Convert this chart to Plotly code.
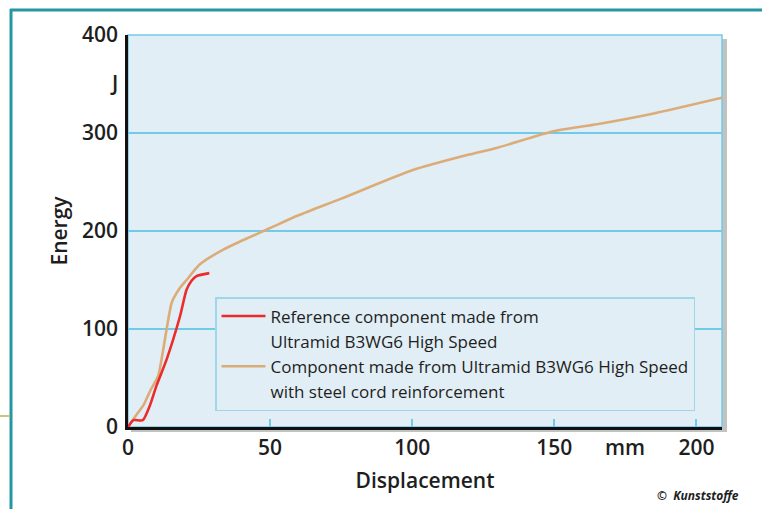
import plotly.graph_objects as go

# ---- data ----
ref_name_lines = ["Reference component made from", "Ultramid B3WG6 High Speed"]
ref_disp = [0, 1.9, 5.2, 7.7, 10.0, 13.6, 18.3, 20.6, 22.3, 24.1, 28.6]
ref_energy = [0, 7, 7, 22, 42, 69, 113, 140, 149, 154, 157]

steel_name_lines = ["Component made from Ultramid B3WG6 High Speed", "with steel cord reinforcement"]
steel_disp = [0, 3.6, 5.4, 8.0, 10.6, 13.6, 15.4, 18.3, 20.6, 25.3, 33.5, 40, 50, 60, 75,
              100, 120, 130, 150, 165, 185, 209]
steel_energy = [0, 15, 22, 38, 52, 100, 127, 142, 150, 166, 181, 190, 203, 216, 233,
                262, 278, 285, 302, 309, 320, 336]

x_ticks = [0, 50, 100, 150, 200]
y_ticks = [0, 100, 200, 300, 400]

FONT = "Open Sans"
WT = 600
TXT = "#1e1e1e"
GRID = "#72cbe6"
BG = "#e1eef5"
TEAL = "#2596a2"
RED = "#ec2b2b"
TAN = "#dcac78"

fig = go.Figure()
fig.add_trace(go.Scatter(x=steel_disp, y=steel_energy, mode="lines", name=steel_name_lines[0],
                         legendgroup="steel", legendrank=3,
                         line=dict(color=TAN, width=2.6, shape="spline", smoothing=0.6)))
fig.add_trace(go.Scatter(x=[None], y=[None], mode="lines", name=steel_name_lines[1],
                         legendgroup="steel", legendrank=4, hoverinfo="skip",
                         line=dict(color="rgba(0,0,0,0)", width=0)))
fig.add_trace(go.Scatter(x=ref_disp, y=ref_energy, mode="lines", name=ref_name_lines[0],
                         legendgroup="ref", legendrank=1,
                         line=dict(color=RED, width=2.6, shape="spline", smoothing=0.6)))
fig.add_trace(go.Scatter(x=[None], y=[None], mode="lines", name=ref_name_lines[1],
                         legendgroup="ref", legendrank=2, hoverinfo="skip",
                         line=dict(color="rgba(0,0,0,0)", width=0)))

W, H = 762, 509
L, R, T, B = 128, 40, 35, 82
PW, PH = W - L - R, H - T - B


def px(xp):
    return (xp - L) / PW


def py(yp):
    return (H - B - yp) / PH


shapes = [
    # shadow
    dict(type="rect", xref="paper", yref="paper", x0=px(131), x1=px(727), y0=py(432), y1=py(39),
         fillcolor="#8f8f8f", opacity=0.55, line=dict(width=0), layer="below"),
    # plot background
    dict(type="rect", xref="paper", yref="paper", x0=0, x1=1, y0=0, y1=1,
         fillcolor=BG, line=dict(color=GRID, width=1.5), layer="below"),
    # teal frame
    dict(type="line", xref="paper", yref="paper", x0=px(10), x1=px(762), y0=py(10), y1=py(10),
         line=dict(color=TEAL, width=3)),
    dict(type="line", xref="paper", yref="paper", x0=px(11), x1=px(11), y0=py(9), y1=py(509),
         line=dict(color=TEAL, width=3)),
    # small olive mark at left
    dict(type="line", xref="paper", yref="paper", x0=px(0), x1=px(10), y0=py(416), y1=py(416),
         line=dict(color="#c9c67a", width=2)),
]

annotations = [
    dict(text="J", xref="paper", yref="y", x=0, y=351, xanchor="right", yanchor="middle",
         xshift=-8, showarrow=False, font=dict(family=FONT, size=21, color=TXT, weight=WT)),
    dict(text="mm", xref="x", yref="paper", x=175, y=0, xanchor="center", yanchor="top",
         yshift=-4, showarrow=False, font=dict(family=FONT, size=21, color=TXT, weight=WT)),
    dict(text="<b><i>©  Kunststoffe</i></b>", xref="paper", yref="paper", x=px(741), y=py(495),
         xanchor="right", yanchor="middle", showarrow=False,
         font=dict(family=FONT, size=12, color=TXT)),
]

fig.update_layout(
    width=W, height=H,
    margin=dict(l=L, r=R, t=T, b=B),
    paper_bgcolor="white",
    plot_bgcolor="rgba(0,0,0,0)",
    font=dict(family=FONT, color=TXT),
    shapes=shapes,
    annotations=annotations,
    showlegend=True,
    legend=dict(x=px(215), y=py(297), xanchor="left", yanchor="top",
                bgcolor=BG, bordercolor="#9fd6ea", borderwidth=1.5,
                font=dict(family=FONT, size=17, color=TXT, weight=500),
                itemwidth=44,
                traceorder="normal", tracegroupgap=0),
    xaxis=dict(range=[0, 209], tickvals=x_ticks, ticktext=[str(v) for v in x_ticks],
               showgrid=False, zeroline=False,
               showline=True, linecolor="#111111", linewidth=2.5,
               ticks="inside", ticklen=8, tickcolor=GRID, tickwidth=1.5,
               tickfont=dict(family=FONT, size=21, color=TXT, weight=WT),
               title=dict(text="Displacement", font=dict(family=FONT, size=21, color=TXT, weight=WT),
                          standoff=14)),
    yaxis=dict(range=[0, 400], tickvals=y_ticks, ticktext=[str(v) for v in y_ticks],
               showgrid=True, gridcolor=GRID, gridwidth=1.5, zeroline=False,
               showline=True, linecolor="#111111", linewidth=2.5,
               ticks="", ticklabelstandoff=3,
               tickfont=dict(family=FONT, size=21, color=TXT, weight=WT),
               title=dict(text="Energy", font=dict(family=FONT, size=21, color=TXT, weight=WT),
                          standoff=9)),
)

fig.write_html("out.html", config={"displayModeBar": False},
               post_script="document.body.style.margin='0px';")
